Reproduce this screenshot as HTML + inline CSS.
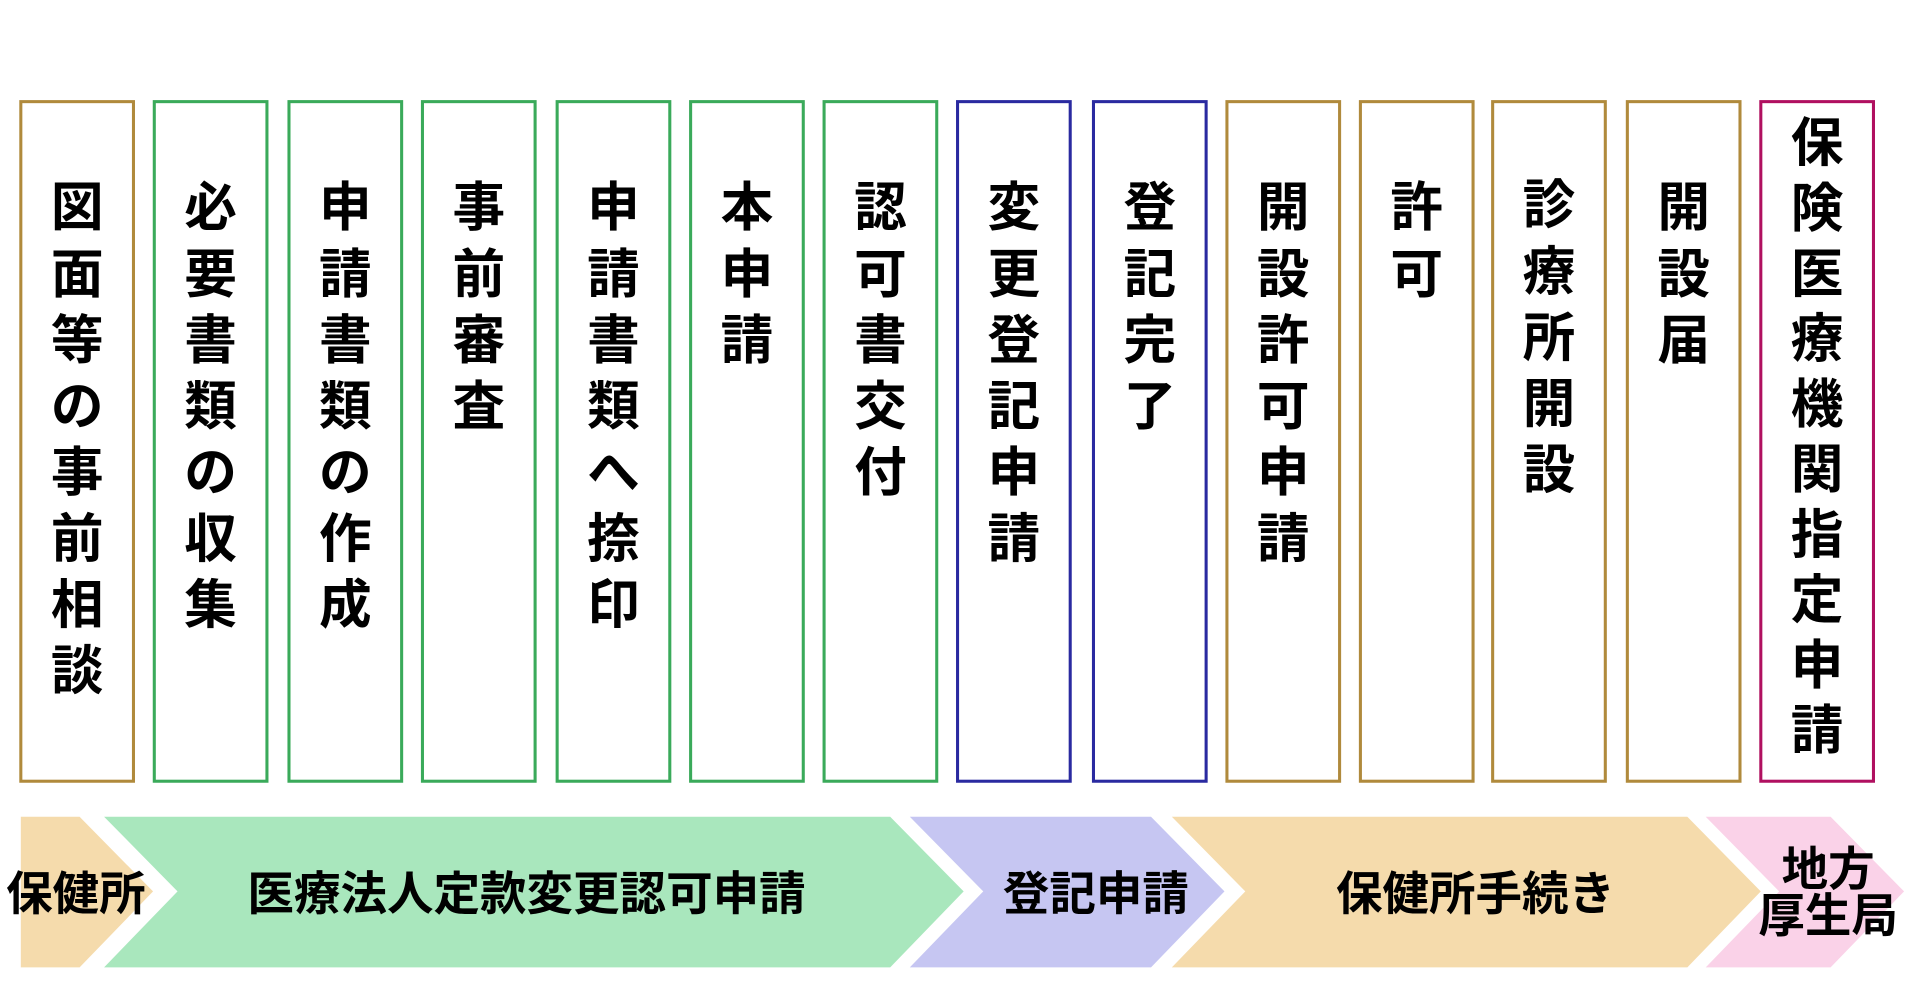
<!DOCTYPE html>
<html><head><meta charset="utf-8"><style>
html,body{margin:0;padding:0;background:#fff;width:1920px;height:1000px;overflow:hidden}
svg{display:block}
text{font-family:"Liberation Sans","Noto Sans CJK JP",sans-serif;font-weight:bold;fill:#000}
</style></head><body>
<svg width="1920" height="1000" viewBox="0 0 1568 816.67" xmlns="http://www.w3.org/2000/svg">
<g fill="#fff" stroke-width="2.5">
<rect x="17" y="83" width="92" height="555" stroke="#b08a3c"/>
<rect x="126" y="83" width="92" height="555" stroke="#3aaa5a"/>
<rect x="236" y="83" width="92" height="555" stroke="#3aaa5a"/>
<rect x="345" y="83" width="92" height="555" stroke="#3aaa5a"/>
<rect x="455" y="83" width="92" height="555" stroke="#3aaa5a"/>
<rect x="564" y="83" width="92" height="555" stroke="#3aaa5a"/>
<rect x="673" y="83" width="92" height="555" stroke="#3aaa5a"/>
<rect x="782" y="83" width="92" height="555" stroke="#2a2aa0"/>
<rect x="893" y="83" width="92" height="555" stroke="#2a2aa0"/>
<rect x="1002" y="83" width="92" height="555" stroke="#b08a3c"/>
<rect x="1111" y="83" width="92" height="555" stroke="#b08a3c"/>
<rect x="1219" y="83" width="92" height="555" stroke="#b08a3c"/>
<rect x="1329" y="83" width="92" height="555" stroke="#b08a3c"/>
<rect x="1438" y="83" width="92" height="555" stroke="#b01060"/>
</g>
<g font-size="43" text-anchor="middle" dominant-baseline="central">
<text x="63" y="170">図<tspan x="63" dy="54">面</tspan><tspan x="63" dy="54">等</tspan><tspan x="63" dy="54">の</tspan><tspan x="63" dy="54">事</tspan><tspan x="63" dy="54">前</tspan><tspan x="63" dy="54">相</tspan><tspan x="63" dy="54">談</tspan></text>
<text x="172" y="170">必<tspan x="172" dy="54">要</tspan><tspan x="172" dy="54">書</tspan><tspan x="172" dy="54">類</tspan><tspan x="172" dy="54">の</tspan><tspan x="172" dy="54">収</tspan><tspan x="172" dy="54">集</tspan></text>
<text x="282" y="170">申<tspan x="282" dy="54">請</tspan><tspan x="282" dy="54">書</tspan><tspan x="282" dy="54">類</tspan><tspan x="282" dy="54">の</tspan><tspan x="282" dy="54">作</tspan><tspan x="282" dy="54">成</tspan></text>
<text x="391" y="170">事<tspan x="391" dy="54">前</tspan><tspan x="391" dy="54">審</tspan><tspan x="391" dy="54">査</tspan></text>
<text x="501" y="170">申<tspan x="501" dy="54">請</tspan><tspan x="501" dy="54">書</tspan><tspan x="501" dy="54">類</tspan><tspan x="501" dy="54">へ</tspan><tspan x="501" dy="54">捺</tspan><tspan x="501" dy="54">印</tspan></text>
<text x="610" y="170">本<tspan x="610" dy="54">申</tspan><tspan x="610" dy="54">請</tspan></text>
<text x="719" y="170">認<tspan x="719" dy="54">可</tspan><tspan x="719" dy="54">書</tspan><tspan x="719" dy="54">交</tspan><tspan x="719" dy="54">付</tspan></text>
<text x="828" y="170">変<tspan x="828" dy="54">更</tspan><tspan x="828" dy="54">登</tspan><tspan x="828" dy="54">記</tspan><tspan x="828" dy="54">申</tspan><tspan x="828" dy="54">請</tspan></text>
<text x="939" y="170">登<tspan x="939" dy="54">記</tspan><tspan x="939" dy="54">完</tspan><tspan x="939" dy="54">了</tspan></text>
<text x="1048" y="170">開<tspan x="1048" dy="54">設</tspan><tspan x="1048" dy="54">許</tspan><tspan x="1048" dy="54">可</tspan><tspan x="1048" dy="54">申</tspan><tspan x="1048" dy="54">請</tspan></text>
<text x="1157" y="170">許<tspan x="1157" dy="54">可</tspan></text>
<text x="1265" y="168">診<tspan x="1265" dy="54">療</tspan><tspan x="1265" dy="54">所</tspan><tspan x="1265" dy="54">開</tspan><tspan x="1265" dy="54">設</tspan></text>
<text x="1375" y="170">開<tspan x="1375" dy="54">設</tspan><tspan x="1375" dy="54">届</tspan></text>
<text x="1484" y="117">保<tspan x="1484" dy="53.3">険</tspan><tspan x="1484" dy="53.3">医</tspan><tspan x="1484" dy="53.3">療</tspan><tspan x="1484" dy="53.3">機</tspan><tspan x="1484" dy="53.3">関</tspan><tspan x="1484" dy="53.3">指</tspan><tspan x="1484" dy="53.3">定</tspan><tspan x="1484" dy="53.3">申</tspan><tspan x="1484" dy="53.3">請</tspan></text>
</g>
<polygon points="17,667 65,667 125,728 65,790 17,790" fill="#f5dbac"/>
<polygon points="85,667 727,667 787,728 727,790 85,790 145,728" fill="#a9e7bd"/>
<polygon points="743,667 940,667 1000,728 940,790 743,790 803,728" fill="#c6c6f2"/>
<polygon points="957,667 1378,667 1438,728 1378,790 957,790 1017,728" fill="#f5dbac"/>
<polygon points="1393,667 1495,667 1555,728 1495,790 1393,790 1453,728" fill="#fad2e8"/>
<g font-size="38" text-anchor="middle" dominant-baseline="central">
<text x="62" y="730">保健所</text>
<text x="430" y="730">医療法人定款変更認可申請</text>
<text x="895" y="730">登記申請</text>
<text x="1205" y="730">保健所手続き</text>
<text x="1493" y="710">地方</text>
<text x="1493" y="748">厚生局</text>
</g>
</svg>
</body></html>
